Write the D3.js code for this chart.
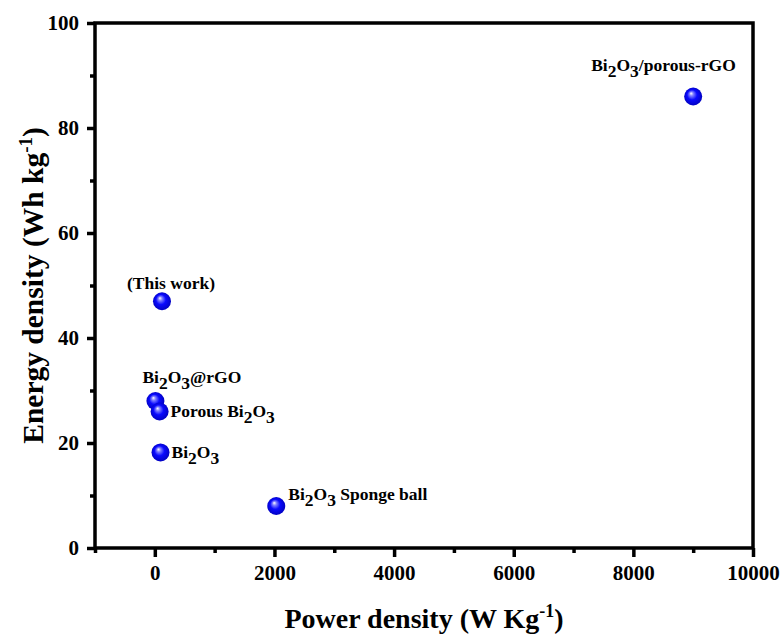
<!DOCTYPE html>
<html>
<head>
<meta charset="utf-8">
<script src="https://cdn.jsdelivr.net/npm/d3@7"></script>
<style>
  body { margin: 0; background: #fff; }
  text { font-family: "Liberation Serif", "Times New Roman", serif; font-weight: bold; fill: #000; }
</style>
</head>
<body>
<div id="chart"></div>
<script>
// Values
const powerDensity  = [9000, 120, 10, 80, 95, 2030];
const energyDensity = [86, 47, 28, 26, 18.2, 8];
// label parts: [text, isSubscript]
const pointLabels = [
    [['Bi', 0], ['2', 1], ['O', 0], ['3', 1], ['/porous-rGO', 0]],
    [['(This work)', 0]],
    [['Bi', 0], ['2', 1], ['O', 0], ['3', 1], ['@rGO', 0]],
    [['Porous Bi', 0], ['2', 1], ['O', 0], ['3', 1]],
    [['Bi', 0], ['2', 1], ['O', 0], ['3', 1]],
    [['Bi', 0], ['2', 1], ['O', 0], ['3', 1], [' Sponge ball', 0]]
];
const xTicks = [0, 2000, 4000, 6000, 8000, 10000];
const yTicks = [0, 20, 40, 60, 80, 100];

const config = {
    width: 780, height: 635,
    margin: {top: 23, right: 27, bottom: 87, left: 95},
    labelSize: 17.5,
    labelOffsets: [[-102, -26], [-35, -12], [-13, -18], [11, 5], [11, 6], [12, -6]]
};

const innerW = config.width - config.margin.left - config.margin.right;
const innerH = config.height - config.margin.top - config.margin.bottom;

const svg = d3.select('#chart').append('svg')
    .attr('width', config.width)
    .attr('height', config.height);

// sphere look for the markers
const grad = svg.append('defs').append('radialGradient')
    .attr('id', 'ball')
    .attr('cx', '50%').attr('cy', '50%').attr('r', '55%')
    .attr('fx', '38%').attr('fy', '32%');
grad.append('stop').attr('offset', '0%').attr('stop-color', '#ffffff');
grad.append('stop').attr('offset', '20%').attr('stop-color', '#8080ff');
grad.append('stop').attr('offset', '50%').attr('stop-color', '#0a0aff');
grad.append('stop').attr('offset', '100%').attr('stop-color', '#0000b8');

const chart = svg.append('g')
    .attr('transform', `translate(${config.margin.left},${config.margin.top})`);

const x = d3.scaleLinear().domain([-1000, 10000]).range([0, innerW]);
const y = d3.scaleLinear().domain([0, 100]).range([innerH, 0]);

// minor ticks
const xMinor = d3.range(-1000, 10001, 1000).filter(v => !xTicks.includes(v));
const yMinor = d3.range(10, 100, 20);

chart.append('g')
    .attr('transform', `translate(0,${innerH})`)
    .call(d3.axisBottom(x).tickValues(xMinor).tickSize(5).tickFormat(''))
    .call(g => g.select('.domain').remove())
    .selectAll('line').attr('stroke-width', 3.5);

chart.append('g')
    .call(d3.axisLeft(y).tickValues(yMinor).tickSize(5).tickFormat(''))
    .call(g => g.select('.domain').remove())
    .selectAll('line').attr('stroke-width', 3.5);

const xAxis = chart.append('g')
    .attr('transform', `translate(0,${innerH})`)
    .call(d3.axisBottom(x).tickValues(xTicks).tickSize(9).tickPadding(8).tickFormat(d3.format('d')))
    .call(g => g.select('.domain').remove());
xAxis.selectAll('line').attr('stroke-width', 3.5);
xAxis.selectAll('text').attr('font-size', 21).style('font-family', '"Liberation Serif", serif').style('font-weight', 'bold');

const yAxis = chart.append('g')
    .call(d3.axisLeft(y).tickValues(yTicks).tickSize(8).tickPadding(8))
    .call(g => g.select('.domain').remove());
yAxis.selectAll('line').attr('stroke-width', 3.5);
yAxis.selectAll('text').attr('font-size', 21).style('font-family', '"Liberation Serif", serif').style('font-weight', 'bold');

// frame
chart.append('rect')
    .attr('width', innerW)
    .attr('height', innerH)
    .attr('fill', 'none')
    .attr('stroke', '#000')
    .attr('stroke-width', 3.5);

// axis titles
const xTitle = svg.append('text')
    .attr('x', config.margin.left + innerW / 2)
    .attr('y', 628)
    .attr('text-anchor', 'middle')
    .attr('font-size', 28);
xTitle.append('tspan').text('Power density (W Kg');
xTitle.append('tspan').attr('dy', -11).attr('font-size', 18).text('-1');
xTitle.append('tspan').attr('dy', 11).text(')');

const yTitle = svg.append('text')
    .attr('transform', `translate(43,${config.margin.top + innerH / 2}) rotate(-90)`)
    .attr('text-anchor', 'middle')
    .attr('font-size', 29.5);
yTitle.append('tspan').text('Energy density (Wh kg');
yTitle.append('tspan').attr('dy', -11).attr('font-size', 19).text('-1');
yTitle.append('tspan').attr('dy', 11).text(')');

// points
chart.selectAll('.pt')
    .data(powerDensity)
    .join('circle')
    .attr('class', 'pt')
    .attr('cx', d => x(d))
    .attr('cy', (d, i) => y(energyDensity[i]))
    .attr('r', 9)
    .attr('fill', 'url(#ball)');

// point labels
chart.selectAll('.pt-label')
    .data(pointLabels)
    .join('text')
    .attr('class', 'pt-label')
    .attr('x', (d, i) => x(powerDensity[i]) + config.labelOffsets[i][0])
    .attr('y', (d, i) => y(energyDensity[i]) + config.labelOffsets[i][1])
    .attr('font-size', config.labelSize)
    .each(function(parts) {
        const t = d3.select(this);
        let shifted = false;
        parts.forEach(([s, sub]) => {
            let dy = 0;
            if (sub && !shifted) { dy = 6; shifted = true; }
            if (!sub && shifted) { dy = -6; shifted = false; }
            t.append('tspan').attr('dy', dy).text(s);
        });
    });
</script>
</body>
</html>
